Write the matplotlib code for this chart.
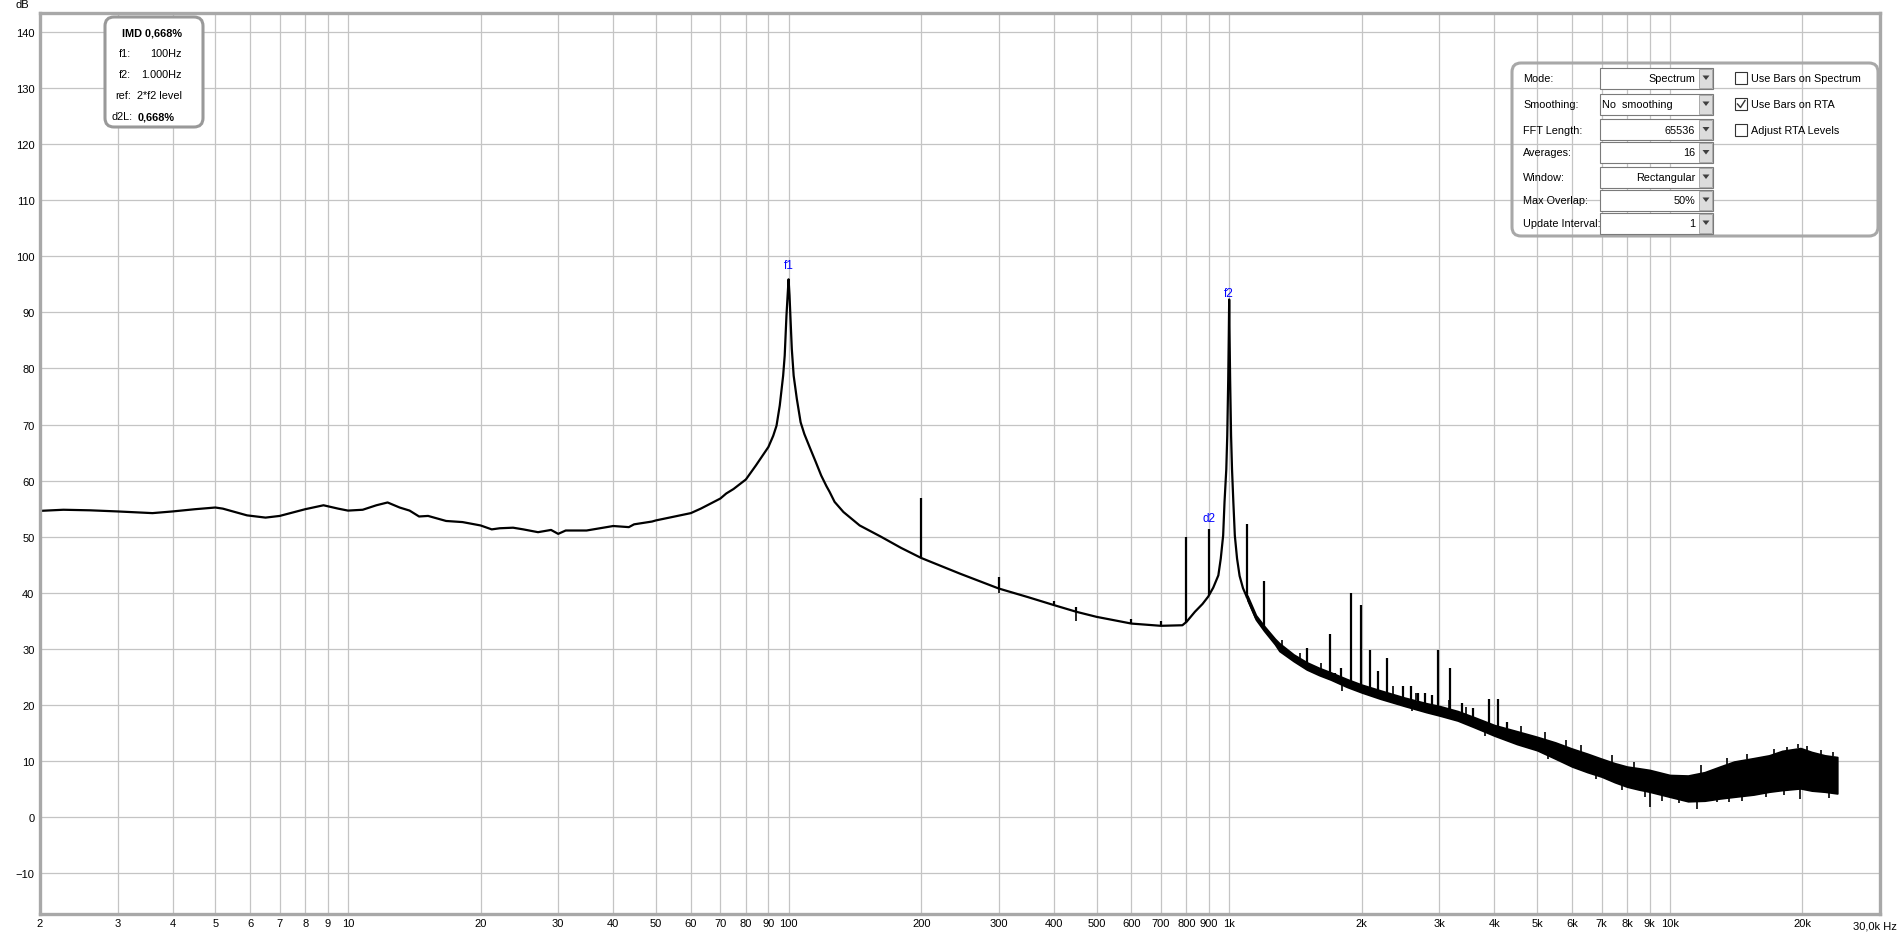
import numpy as np
import matplotlib
matplotlib.use("Agg")
import matplotlib.pyplot as plt
from matplotlib.patches import FancyBboxPatch, Rectangle, Polygon
from matplotlib.ticker import NullLocator

plt.rcParams['font.family'] = ['Liberation Sans', 'DejaVu Sans']

# smooth part of the spectrum (Hz, dB)
freq = [2, 2.26, 2.6, 3, 3.6, 4, 4.5, 5, 5.2, 5.9, 6.5, 7, 8, 8.8, 9.5, 10, 10.8, 11.6,
        12.3, 13.1, 13.8, 14.5, 15.2, 16.7, 18.2, 20, 21.2, 22.1, 23.7, 25, 27, 28.9, 30,
        31.2, 34.8, 40, 43.4, 44.6, 49, 50, 54.4, 60, 63.2, 65.4, 70, 72.2, 75, 80, 84.3,
        90, 92.3, 93.9, 95.5, 97.2, 98.0, 98.9, 99.5, 100, 100.5, 101.0, 101.7, 102.7,
        104.4, 106.5, 108.6, 112, 115.3, 118.6, 121.9, 123.9, 127.2, 133.2, 145, 162, 180,
        200, 245, 300, 350, 400, 450, 500, 600, 700, 783, 800, 836, 870, 896, 920, 945,
        957, 969, 976, 985, 990, 995, 998, 1000, 1002, 1005, 1010, 1015, 1022, 1030, 1042,
        1056, 1075, 1100, 1150, 1200, 1270]
level = [54.6, 54.8, 54.7, 54.5, 54.2, 54.5, 54.9, 55.2, 55.0, 53.8, 53.4, 53.7, 54.9,
         55.6, 55.0, 54.65, 54.8, 55.6, 56.1, 55.2, 54.65, 53.6, 53.7, 52.8, 52.6, 52.0,
         51.3, 51.5, 51.6, 51.3, 50.8, 51.2, 50.5, 51.1, 51.1, 51.9, 51.7, 52.2, 52.7,
         52.9, 53.5, 54.2, 55.0, 55.6, 56.8, 57.7, 58.5, 60.2, 62.7, 66.0, 68.0, 69.8,
         73.4, 78.7, 82.3, 89.4, 93.0, 95.9, 93.0, 89.0, 83.5, 78.7, 74.6, 70.4, 68.3,
         65.7, 63.3, 60.9, 59.0, 58.0, 56.2, 54.4, 52.0, 50.0, 48.0, 46.2, 43.4, 40.75,
         39.2, 37.8, 36.6, 35.7, 34.5, 34.1, 34.2, 34.8, 36.6, 38.0, 39.3, 40.9, 43.1,
         46.1, 50.2, 56.2, 62.0, 68.0, 78.0, 86.0, 92.3, 86.0, 78.0, 68.0, 62.0, 56.2,
         50.2, 46.1, 43.0, 40.8, 39.0, 35.5, 33.6, 31.2]

# noisy part: upper and lower envelope
noise_f = [1100, 1150, 1200, 1270, 1300, 1400, 1500, 1600, 1700, 1850, 2000, 2200, 2500,
           2800, 3000, 3300, 3600, 4000, 4500, 5000, 5500, 6000, 6500, 7000, 7500, 8000,
           8500, 9000, 10000, 11000, 12000, 13000, 14000, 15500, 16800, 18000, 19800,
           21000, 22500, 24000]
noise_hi = [39.5, 36.0, 34.1, 31.8, 31.0, 29.0, 27.6, 26.6, 25.8, 24.6, 23.6, 22.6, 21.3,
            20.3, 19.8, 18.9, 17.8, 16.4, 15.3, 14.3, 13.3, 12.2, 11.3, 10.4, 9.6, 9.0,
            8.7, 8.4, 7.5, 7.4, 8.0, 9.0, 9.9, 10.5, 11.0, 11.8, 12.3, 11.6, 11.0, 10.7]
noise_lo = [38.7, 35.2, 33.2, 30.8, 29.6, 27.8, 26.3, 25.3, 24.5, 23.2, 22.2, 21.1, 19.8,
            18.7, 18.1, 17.2, 16.0, 14.5, 13.0, 11.9, 10.4, 9.0, 8.0, 7.2, 6.2, 5.4,
            4.9, 4.5, 3.6, 2.8, 2.9, 3.3, 3.6, 4.0, 4.5, 4.8, 5.1, 4.7, 4.5, 4.2]

# discrete spurs (Hz, top dB)
spike_f = [200, 300, 400, 450, 600, 700, 800, 900, 1100, 1200, 1340, 1500, 1540, 1690,
           1740, 1790, 1890, 1990, 2090, 2180, 2280, 2480, 2580, 2680, 2780, 2880, 2980,
           3170, 3370, 3580, 3880, 4080, 4280]
spike_top = [56.9, 42.8, 38.5, 37.5, 35.4, 35.0, 50.0, 51.4, 52.2, 42.1, 29.5, 30.2, 27.1,
             32.6, 25.6, 26.5, 40.0, 37.8, 29.8, 26.0, 28.3, 23.3, 23.4, 22.2, 22.2, 21.8,
             29.8, 26.5, 20.4, 19.5, 21.1, 21.1, 16.9]

# downward and upward excursions of the noise
dip_f = [300, 450, 1800, 2600, 3800, 5300, 6800, 7800, 8800, 9000, 9600, 10500, 11500,
         12800, 13600, 14600, 16500, 18200, 19800, 23000]
dip_bottom = [40.0, 34.9, 22.5, 18.9, 14.4, 10.4, 6.8, 4.9, 3.5, 1.8, 2.8, 2.5, 1.4,
              2.6, 2.7, 2.9, 3.5, 3.9, 3.3, 3.4]
peak_f = [1320, 1450, 1620, 2350, 2650, 3150, 3450, 4600, 5200, 5800, 6300, 7400, 8300,
          11800, 13500, 15000, 17200, 18500, 19500, 20500, 22000, 23500]
peak_top = [31.5, 29.2, 27.5, 23.4, 22.1, 20.8, 19.6, 16.3, 15.2, 13.8, 12.9, 11.0, 9.8,
            9.3, 10.5, 11.3, 12.2, 12.5, 13.0, 12.6, 12.0, 11.6]

grid_f = [m * 10 ** d for d in range(0, 5) for m in range(1, 10)]
grid_f = [g for g in grid_f if 2 <= g <= 20000]


def flabel(v):
    if v >= 1000:
        return '%dk' % (v // 1000)
    return '%d' % v


fig = plt.figure(figsize=(18.99, 9.37), dpi=100)
ax = fig.add_axes([40 / 1899, 22 / 937, 1840 / 1899, 901 / 937])
ax.set_xscale('log')
ax.set_xlim(2, 30000)
ax.set_ylim(-17.3, 143.4)

ax.set_xticks(grid_f)
ax.set_xticklabels([flabel(v) for v in grid_f])
ax.xaxis.set_minor_locator(NullLocator())
ax.set_yticks(range(-10, 141, 10))
ax.tick_params(length=0, labelsize=8, pad=3)
ax.tick_params(axis='y', pad=4)
ax.grid(True, color='#c4c4c4', lw=0.9)
ax.set_axisbelow(True)
for s in ax.spines.values():
    s.set_color('#a8a8a8')
    s.set_linewidth(2.4)

lf = np.log10(freq)
ax.plot(freq, level, color='black', lw=1.6, solid_joinstyle='round')
ax.fill_between(noise_f, noise_lo, noise_hi, color='black', lw=1.2)

base = np.where(np.array(spike_f) > 1270,
                np.interp(np.log10(spike_f), np.log10(noise_f), noise_lo),
                np.interp(np.log10(spike_f), lf, level))
ax.vlines(spike_f, base, spike_top, color='black', lw=1.6)
dip_base = np.where(np.array(dip_f) > 1270,
                    np.interp(np.log10(dip_f), np.log10(noise_f), noise_lo),
                    np.interp(np.log10(dip_f), lf, level))
ax.vlines(dip_f, dip_bottom, dip_base, color='black', lw=1.2)
peak_base = np.interp(np.log10(peak_f), np.log10(noise_f), noise_hi)
ax.vlines(peak_f, peak_base, peak_top, color='black', lw=1.2)

ax.text(100, 98.4, 'f1', color='#0000ff', fontsize=8.5, ha='center', va='center')
ax.text(1000, 93.4, 'f2', color='#0000ff', fontsize=8.5, ha='center', va='center')
ax.text(900, 53.3, 'd2', color='#0000ff', fontsize=8.5, ha='center', va='center')

fig.text(22 / 1899, 1 - 5 / 937, 'dB', fontsize=8, ha='center', va='center')
fig.text(1897 / 1899, 1 - 927 / 937, '30,0k Hz', fontsize=8, ha='right', va='center')

# overlay in pixel coordinates
ov = fig.add_axes([0, 0, 1, 1], zorder=5)
ov.set_xlim(0, 1899)
ov.set_ylim(937, 0)
ov.axis('off')
ov.patch.set_alpha(0)

ov.add_patch(FancyBboxPatch((105, 18), 98, 110, boxstyle='round,pad=0,rounding_size=9',
                            fc='white', ec='#999999', lw=2.2))
fs = 7.8
ov.text(152, 33, 'IMD 0,668%', fontsize=fs, weight='bold', ha='center', va='center')
rows = [('f1:', '100Hz'), ('f2:', '1.000Hz'), ('ref:', '2*f2 level')]
for i, (k, v) in enumerate(rows):
    y = 54 + i * 21
    ov.text(131, y, k, fontsize=fs, ha='right', va='center')
    ov.text(182, y, v, fontsize=fs, ha='right', va='center')
ov.text(133, 117, 'd2L:', fontsize=fs, ha='right', va='center')
ov.text(138, 117, '0,668%', fontsize=fs, weight='bold', ha='left', va='center')

ov.add_patch(FancyBboxPatch((1512, 64), 366, 173, boxstyle='round,pad=0,rounding_size=9',
                            fc='none', ec='#a8a8a8', lw=2.2))
settings = ['Mode:', 'Smoothing:', 'FFT Length:', 'Averages:', 'Window:', 'Max Overlap:',
            'Update Interval:']
values = ['Spectrum', 'No  smoothing', '65536', '16', 'Rectangular', '50%', '1']
row_y = [79, 105, 130.5, 153.5, 178, 201, 224]
for lab, val, y in zip(settings, values, row_y):
    ov.text(1523, y, lab, fontsize=fs, ha='left', va='center')
    ov.add_patch(Rectangle((1600, y - 10.5), 113.5, 21, fc='white', ec='#7a7a7a', lw=0.8))
    ov.add_patch(Rectangle((1699, y - 9.5), 13.5, 19, fc='#dcdcdc', ec='#a0a0a0', lw=0.6))
    ov.add_patch(Polygon([(1702.5, y - 2.5), (1709.5, y - 2.5), (1706, y + 2)],
                         closed=True, fc='#404040', ec='none'))
    if val.startswith('No'):
        ov.text(1602, y, val, fontsize=fs, ha='left', va='center')
    else:
        ov.text(1695, y, val, fontsize=fs, ha='right', va='center')

checks = ['Use Bars on Spectrum', 'Use Bars on RTA', 'Adjust RTA Levels']
for i, lab in enumerate(checks):
    y = row_y[i]
    ov.add_patch(Rectangle((1735, y - 6), 12, 12, fc='white', ec='#333333', lw=0.8))
    ov.text(1751, y, lab, fontsize=fs, ha='left', va='center')
    if i == 1:
        ov.plot([1737.5, 1740.5, 1745], [y, y + 3.5, y - 3.5], color='#333333', lw=1)

fig.savefig('out.png', dpi=100)
